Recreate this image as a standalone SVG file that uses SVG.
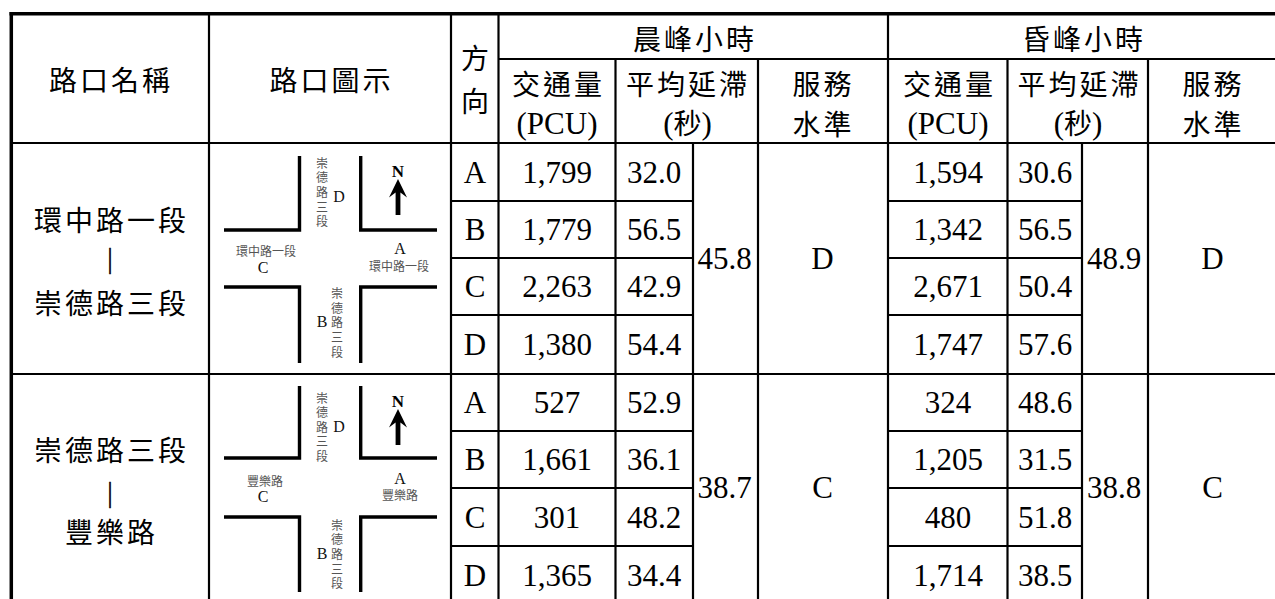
<svg xmlns="http://www.w3.org/2000/svg" width="1275" height="599" viewBox="0 0 1275 599">
<style>
.cjk{font-family:"Noto Sans CJK TC","Noto Sans CJK SC",sans-serif;font-size:28px;letter-spacing:3px;fill:#000;text-anchor:middle}
.lat{font-family:"Liberation Serif","Times New Roman",serif;font-size:31px;fill:#000;text-anchor:middle}
.bar{font-family:"Noto Sans CJK TC","Noto Sans CJK SC",sans-serif;font-size:26px;fill:#000;stroke:#000;stroke-width:0.6;text-anchor:middle}
.grid line{stroke:#000;stroke-width:2.2}
.grid .thick{stroke-width:3.5}
.road{stroke:#000;stroke-width:3.4;fill:none}
.sm{font-family:"Noto Sans CJK TC","Noto Sans CJK SC",sans-serif;font-size:12px;fill:#555;text-anchor:middle}
.vt{font-family:"Noto Sans CJK TC","Noto Sans CJK SC",sans-serif;font-size:12px;fill:#555;text-anchor:middle;writing-mode:vertical-rl;letter-spacing:2.6px}
.let{font-family:"Liberation Serif","Times New Roman",serif;font-size:16px;fill:#111;text-anchor:middle}
.n{font-family:"Liberation Serif","Times New Roman",serif;font-size:17px;font-weight:bold;fill:#000;text-anchor:middle}
</style>
<defs>
<g id="north">
<text class="n" x="398" y="176.5">N</text>
<path d="M398,179 L407,197.5 L400.4,192.5 L400.4,215 L395.6,215 L395.6,192.5 L389,197.5 Z" fill="#000"/>
</g>
</defs>
<rect width="1275" height="599" fill="#fff"/>
<g id="grid" class="grid">
<line class="thick" x1="9.5" y1="13.7" x2="1275" y2="13.7"/>
<line class="thick" x1="11.3" y1="12" x2="11.3" y2="599"/>
<line x1="209" y1="12" x2="209" y2="599"/>
<line x1="451" y1="12" x2="451" y2="599"/>
<line x1="498.5" y1="12" x2="498.5" y2="599"/>
<line x1="615.5" y1="59" x2="615.5" y2="599"/>
<line x1="693" y1="143" x2="693" y2="599"/>
<line x1="758" y1="59" x2="758" y2="599"/>
<line x1="888" y1="12" x2="888" y2="599"/>
<line x1="1007.5" y1="59" x2="1007.5" y2="599"/>
<line x1="1082" y1="143" x2="1082" y2="599"/>
<line x1="1148" y1="59" x2="1148" y2="599"/>
<line x1="498" y1="59" x2="1275" y2="59"/>
<line x1="10" y1="143" x2="1275" y2="143"/>
<line x1="10" y1="374" x2="1275" y2="374"/>
<line x1="451" y1="201" x2="693" y2="201"/>
<line x1="451" y1="258" x2="693" y2="258"/>
<line x1="451" y1="315" x2="693" y2="315"/>
<line x1="888" y1="201" x2="1082" y2="201"/>
<line x1="888" y1="258" x2="1082" y2="258"/>
<line x1="888" y1="315" x2="1082" y2="315"/>
<line x1="451" y1="431" x2="693" y2="431"/>
<line x1="451" y1="488" x2="693" y2="488"/>
<line x1="451" y1="546" x2="693" y2="546"/>
<line x1="888" y1="431" x2="1082" y2="431"/>
<line x1="888" y1="488" x2="1082" y2="488"/>
<line x1="888" y1="546" x2="1082" y2="546"/>
</g>
<g id="header">
<text class="cjk" x="111" y="90.6">路口名稱</text>
<text class="cjk" x="331.5" y="90.6">路口圖示</text>
<text class="cjk" x="476.5" y="68.6">方</text>
<text class="cjk" x="476.5" y="111.6">向</text>
<text class="cjk" x="695" y="50">晨峰小時</text>
<text class="cjk" x="1084" y="50">昏峰小時</text>
<text class="cjk" x="558.5" y="95">交通量</text>
<text class="lat" x="557" y="134">(PCU)</text>
<text class="cjk" x="688" y="94.5">平均延滯</text>
<text class="lat" x="687.5" y="134">(<tspan class="cjk" style="font-size:28px;letter-spacing:0">秒</tspan>)</text>
<text class="cjk" x="823.5" y="95">服務</text>
<text class="cjk" x="823.5" y="135">水準</text>
<text class="cjk" x="949.5" y="95">交通量</text>
<text class="lat" x="948" y="134">(PCU)</text>
<text class="cjk" x="1079.5" y="94.5">平均延滯</text>
<text class="lat" x="1078" y="134">(<tspan class="cjk" style="font-size:28px;letter-spacing:0">秒</tspan>)</text>
<text class="cjk" x="1213.5" y="95">服務</text>
<text class="cjk" x="1213.5" y="135">水準</text>
</g>
<g id="intersection1-name">
<text class="cjk" x="111.5" y="230.6">環中路一段</text>
<text class="bar" x="110" y="270.5">｜</text>
<text class="cjk" x="111.5" y="313.6">崇德路三段</text>
</g>
<g id="intersection1-diagram">
<path class="road" d="M299.5,156 V230 H224 M360.7,156 V230 H437 M224,287 H299.5 V363 M437,287 H360.7 V363"/>
<use href="#north"/>
<text class="vt" x="322" y="193.8">崇德路三段</text>
<text class="vt" x="337" y="324.1">崇德路三段</text>
<text class="let" x="339" y="202.3">D</text>
<text class="let" x="322" y="327.3">B</text>
<text class="let" x="400" y="254">A</text>
<text class="let" x="263" y="272.5">C</text>
<text class="sm" x="266" y="255.6">環中路一段</text>
<text class="sm" x="399" y="271">環中路一段</text>
</g>
<g id="intersection1-data">
<text class="lat" x="475" y="182.5">A</text>
<text class="lat" x="475" y="240">B</text>
<text class="lat" x="475" y="297">C</text>
<text class="lat" x="475" y="355">D</text>
<text class="lat" x="557" y="182.5">1,799</text>
<text class="lat" x="557" y="240">1,779</text>
<text class="lat" x="557" y="297">2,263</text>
<text class="lat" x="557" y="355">1,380</text>
<text class="lat" x="654" y="182.5">32.0</text>
<text class="lat" x="654" y="240">56.5</text>
<text class="lat" x="654" y="297">42.9</text>
<text class="lat" x="654" y="355">54.4</text>
<text class="lat" x="724.5" y="268.5">45.8</text>
<text class="lat" x="822.5" y="268.5">D</text>
<text class="lat" x="948" y="182.5">1,594</text>
<text class="lat" x="948" y="240">1,342</text>
<text class="lat" x="948" y="297">2,671</text>
<text class="lat" x="948" y="355">1,747</text>
<text class="lat" x="1045" y="182.5">30.6</text>
<text class="lat" x="1045" y="240">56.5</text>
<text class="lat" x="1045" y="297">50.4</text>
<text class="lat" x="1045" y="355">57.6</text>
<text class="lat" x="1114" y="268.5">48.9</text>
<text class="lat" x="1212.5" y="268.5">D</text>
</g>
<g id="intersection2-name">
<text class="cjk" x="111.5" y="460.6">崇德路三段</text>
<text class="bar" x="110" y="504.5">｜</text>
<text class="cjk" x="111.5" y="542.6">豐樂路</text>
</g>
<g id="intersection2-diagram">
<path class="road" d="M299.5,386 V458 H224 M360.7,386 V458 H437 M224,517 H299.5 V592 M437,517 H360.7 V592"/>
<use href="#north" transform="translate(0,230)"/>
<text class="vt" x="322" y="428.5">崇德路三段</text>
<text class="vt" x="337" y="555.8">崇德路三段</text>
<text class="let" x="339" y="432">D</text>
<text class="let" x="322" y="558.6">B</text>
<text class="let" x="400" y="484">A</text>
<text class="let" x="263" y="502">C</text>
<text class="sm" x="265" y="486.3">豐樂路</text>
<text class="sm" x="400" y="500">豐樂路</text>
</g>
<g id="intersection2-data">
<text class="lat" x="475" y="413">A</text>
<text class="lat" x="475" y="470">B</text>
<text class="lat" x="475" y="527.5">C</text>
<text class="lat" x="475" y="585.5">D</text>
<text class="lat" x="557" y="413">527</text>
<text class="lat" x="557" y="470">1,661</text>
<text class="lat" x="557" y="527.5">301</text>
<text class="lat" x="557" y="585.5">1,365</text>
<text class="lat" x="654" y="413">52.9</text>
<text class="lat" x="654" y="470">36.1</text>
<text class="lat" x="654" y="527.5">48.2</text>
<text class="lat" x="654" y="585.5">34.4</text>
<text class="lat" x="724.5" y="498">38.7</text>
<text class="lat" x="822.5" y="498">C</text>
<text class="lat" x="948" y="413">324</text>
<text class="lat" x="948" y="470">1,205</text>
<text class="lat" x="948" y="527.5">480</text>
<text class="lat" x="948" y="585.5">1,714</text>
<text class="lat" x="1045" y="413">48.6</text>
<text class="lat" x="1045" y="470">31.5</text>
<text class="lat" x="1045" y="527.5">51.8</text>
<text class="lat" x="1045" y="585.5">38.5</text>
<text class="lat" x="1114" y="498">38.8</text>
<text class="lat" x="1212.5" y="498">C</text>
</g>
</svg>
